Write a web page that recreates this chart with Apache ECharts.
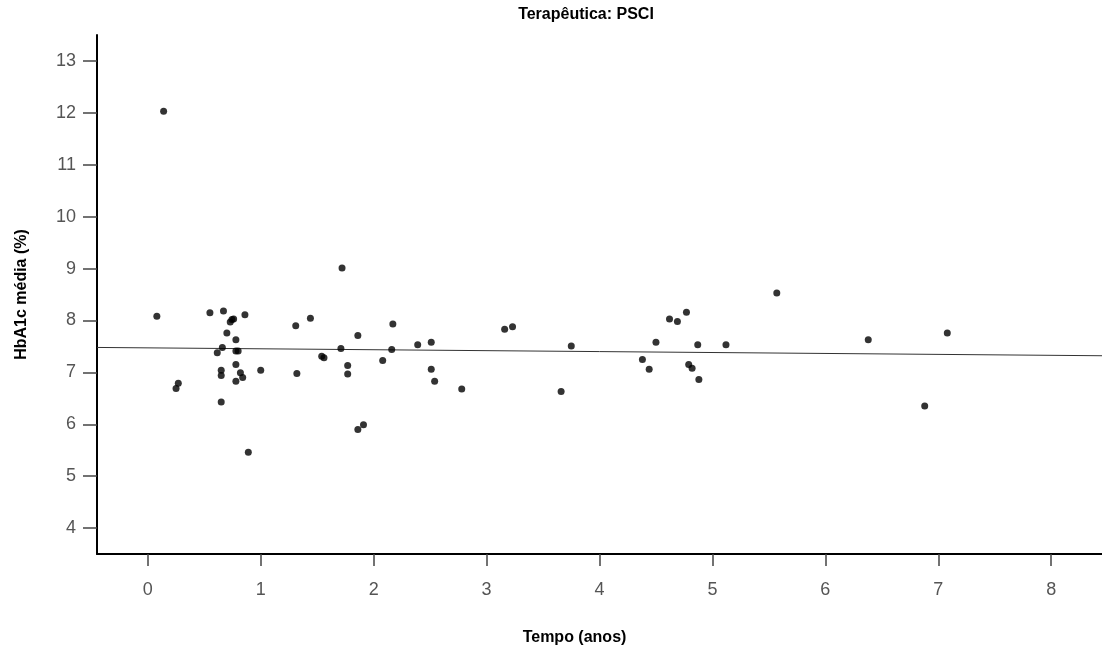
<!DOCTYPE html>
<html>
<head>
<meta charset="utf-8">
<script src="https://cdn.jsdelivr.net/npm/echarts@6/dist/echarts.min.js"></script>
<style>html,body{margin:0;padding:0;background:#fff}#c{width:1102px;height:648px}</style>
</head>
<body>
<div id="c"></div>
<script>
// Tempo (anos)
var tempo = [0.14, 0.08, 0.55, 0.67, 0.86, 0.745, 0.73, 0.76, 0.70, 0.78, 0.66, 0.615, 0.78, 0.80, 0.78, 0.65, 0.65, 0.82, 0.84, 1.00, 0.78, 0.27, 0.25, 0.65, 0.89,
  1.72, 1.31, 1.44, 2.17, 1.86, 1.71, 2.16, 2.39, 2.51, 1.54, 1.56, 1.77, 1.77, 2.08, 1.32, 2.51, 2.54, 2.78, 1.91, 1.86,
  3.16, 3.23, 3.75, 3.66, 4.62, 4.69, 4.77, 4.50, 4.87, 5.12, 4.38, 4.44, 4.79, 4.82, 4.88,
  5.57, 6.38, 7.08, 6.88];
// HbA1c média (%)
var hba1c = [12.03, 8.08, 8.15, 8.18, 8.11, 8.02, 7.97, 8.03, 7.76, 7.63, 7.48, 7.38, 7.41, 7.41, 7.15, 7.04, 6.94, 6.99, 6.90, 7.04, 6.83, 6.79, 6.69, 6.43, 5.46,
  9.01, 7.90, 8.04, 7.93, 7.71, 7.46, 7.44, 7.53, 7.58, 7.31, 7.28, 7.13, 6.97, 7.23, 6.98, 7.06, 6.83, 6.68, 5.99, 5.90,
  7.83, 7.88, 7.51, 6.63, 8.03, 7.98, 8.16, 7.58, 7.53, 7.53, 7.25, 7.06, 7.15, 7.08, 6.86,
  8.53, 7.63, 7.76, 6.35];
// fit line endpoints
var fitX = [-0.45, 8.45];
var fitY = [7.48, 7.32];
var xTicks = [0, 1, 2, 3, 4, 5, 6, 7, 8];
var yTicks = [4, 5, 6, 7, 8, 9, 10, 11, 12, 13];

var pts = tempo.map(function (t, i) { return [t, hba1c[i]]; });
var fit = fitX.map(function (t, i) { return [t, fitY[i]]; });

var chart = echarts.init(document.getElementById('c'), null, {renderer: 'canvas'});
var font = 'Liberation Sans, Arial, sans-serif';
chart.setOption({
  backgroundColor: '#fff',
  animation: false,
  title: {
    text: 'Terapêutica: PSCI',
    left: 581, top: 2, textAlign: 'center',
    textStyle: {fontFamily: font, fontSize: 16, fontWeight: 'bold', color: '#000'}
  },
  grid: {left: 97, right: 0, top: 35, bottom: 94, containLabel: false, outerBoundsMode: 'none'},
  xAxis: {
    type: 'value', min: -0.45, max: 8.45,
    name: 'Tempo (anos)', nameLocation: 'middle', nameGap: 76,
    nameTextStyle: {fontFamily: font, fontSize: 16, fontWeight: 'bold', color: '#000', padding: [0, 0, 0, -50]},
    axisLine: {show: true, onZero: false, lineStyle: {color: '#000', width: 2}},
    axisTick: {show: true, customValues: xTicks, length: 12, inside: false, lineStyle: {color: '#444', width: 1.5}},
    axisLabel: {customValues: xTicks, fontFamily: font, fontSize: 18, color: '#555', margin: 27},
    splitLine: {show: false}
  },
  yAxis: {
    type: 'value', min: 3.5, max: 13.5,
    name: 'HbA1c média (%)', nameLocation: 'middle', nameGap: 67, nameRotate: 90,
    nameTextStyle: {fontFamily: font, fontSize: 16, fontWeight: 'bold', color: '#000'},
    axisLine: {show: true, onZero: false, lineStyle: {color: '#000', width: 2}},
    axisTick: {show: true, customValues: yTicks, length: 14, lineStyle: {color: '#444', width: 1.5}},
    axisLabel: {customValues: yTicks, fontFamily: font, fontSize: 18, color: '#555', margin: 21, padding: [4, 0, 0, 0]},
    splitLine: {show: false}
  },
  series: [
    {
      type: 'line', data: fit, symbol: 'none', silent: true,
      lineStyle: {color: '#333', width: 1}, z: 1
    },
    {
      type: 'scatter', data: pts, symbol: 'circle', symbolSize: 7,
      itemStyle: {color: '#000'}, z: 3
    }
  ]
});
</script>
</body>
</html>
